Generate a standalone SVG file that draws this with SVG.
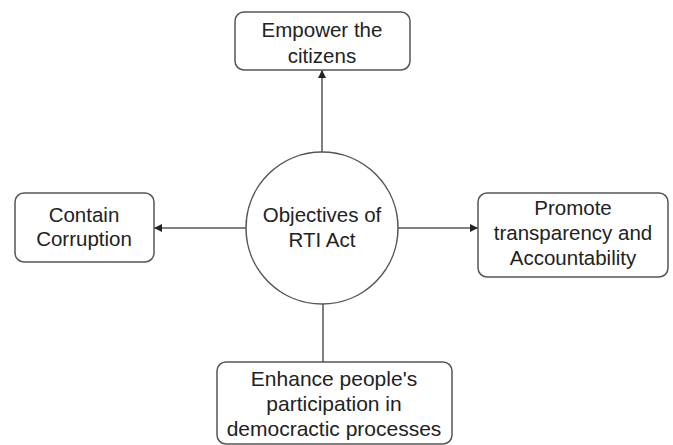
<svg xmlns="http://www.w3.org/2000/svg" width="673" height="445" viewBox="0 0 673 445">
<style>
.box{fill:#fff;stroke:#555;stroke-width:1.5}
.t{font-family:"Liberation Sans",Arial,sans-serif;font-size:20.5px;fill:#222;text-anchor:middle}
.c{stroke:#555;stroke-width:1.5;fill:none}
</style>
<defs>
<marker id="ah" viewBox="0 0 10 10" refX="10" refY="5" markerWidth="8" markerHeight="8" markerUnits="userSpaceOnUse" orient="auto">
<path d="M0,0 L10,5 L0,10 z" fill="#222"/>
</marker>
</defs>
<rect width="673" height="445" fill="#fff"/>
<g id="connectors">
<line class="c" x1="322" y1="152" x2="322" y2="70" marker-end="url(#ah)"/>
<line class="c" x1="246" y1="228" x2="154" y2="228" marker-end="url(#ah)"/>
<line class="c" x1="398" y1="228" x2="478" y2="228" marker-end="url(#ah)"/>
<line class="c" x1="323" y1="304" x2="323" y2="362"/>
</g>
<g id="center">
<circle class="box" cx="322" cy="228" r="76"/>
<text class="t" x="322" y="222">Objectives of</text>
<text class="t" x="322" y="247">RTI Act</text>
</g>
<g id="top">
<rect class="box" x="235" y="12" width="175" height="58" rx="9"/>
<text class="t" x="322" y="37">Empower the</text>
<text class="t" x="322" y="63">citizens</text>
</g>
<g id="left">
<rect class="box" x="15" y="193" width="139" height="69" rx="9"/>
<text class="t" x="84" y="222">Contain</text>
<text class="t" x="84" y="246">Corruption</text>
</g>
<g id="right">
<rect class="box" x="478" y="193" width="190" height="84" rx="9"/>
<text class="t" x="573" y="215">Promote</text>
<text class="t" x="573" y="240">transparency and</text>
<text class="t" x="573" y="265">Accountability</text>
</g>
<g id="bottom">
<rect class="box" x="217" y="362" width="235" height="82" rx="9"/>
<text class="t" x="334" y="386" style="font-size:21px">Enhance people's</text>
<text class="t" x="334" y="411" style="font-size:21px">participation in</text>
<text class="t" x="334" y="436" style="font-size:21px">democractic processes</text>
</g>
</svg>
